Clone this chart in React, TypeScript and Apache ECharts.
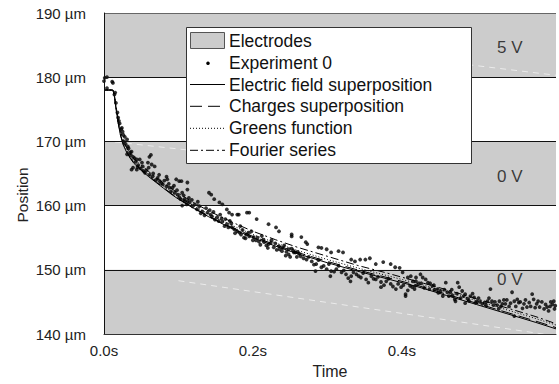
import React, { useEffect, useRef } from "react";
import * as echarts from "echarts";

// ---------- data ----------
const xTickLabels = ["0.0s", "0.2s", "0.4s"];
const electrodeBands = [
  [180, 190],
  [160, 170],
  [140, 150],
];
const electrodeVoltages = ["5 V", "0 V", "0 V"];
const voltageLabelAt = [
  [0.545, 184.6],
  [0.545, 164.5],
  [0.545, 148.5],
];
const bandEdges = [180, 170, 160, 150];
const frameEdges = [190, 140];

const modelTimes = [
  0, 0.006, 0.012, 0.014, 0.016, 0.019, 0.022, 0.026, 0.03, 0.035, 0.04, 0.05, 0.06, 0.07, 0.08, 0.09, 0.1,
  0.12, 0.14, 0.16, 0.18, 0.2, 0.23, 0.26, 0.3, 0.34, 0.38, 0.42, 0.46, 0.5, 0.54, 0.58, 0.607,
];
const fieldSuperposition = [
  178.0, 178.0, 178.0, 177.0, 175.2, 172.9, 171.0, 169.4, 168.4, 167.4, 166.6, 165.5, 164.5, 163.6, 162.7, 161.8, 161.0,
  159.6, 158.3, 157.1, 156.0, 155.0, 153.7, 152.5, 151.1, 149.8, 148.6, 147.4, 146.0, 144.6, 143.2, 141.8, 140.8,
];
const chargesSuperposition = [
  178.0, 178.0, 178.0, 177.0, 175.3, 173.0, 171.1, 169.5, 168.5, 167.5, 166.7, 165.6, 164.6, 163.7, 162.8, 161.9, 161.1,
  159.7, 158.4, 157.2, 156.2, 155.2, 153.9, 152.7, 151.3, 150.0, 148.8, 147.6, 146.2, 144.8, 143.4, 142.0, 141.0,
];
const greensFunction = [
  178.0, 178.0, 178.0, 177.1, 175.4, 173.2, 171.3, 169.7, 168.7, 167.7, 166.9, 165.8, 164.8, 163.9, 163.0, 162.2, 161.4,
  160.0, 158.7, 157.6, 156.5, 155.5, 154.2, 153.0, 151.6, 150.3, 149.1, 147.9, 146.6, 145.2, 143.8, 142.4, 141.4,
];
const fourierSeries = [
  178.0, 178.0, 178.0, 177.2, 175.6, 173.5, 171.7, 170.1, 169.1, 168.1, 167.3, 166.3, 165.3, 164.4, 163.5, 162.7, 161.9,
  160.5, 159.2, 158.1, 157.0, 156.0, 154.7, 153.5, 152.1, 150.7, 149.5, 148.2, 146.9, 145.5, 144.1, 142.7, 141.6,
];

const experiment0 = [
  [0.001, 179.9], [0.004, 180.0], [0.0, 179.4], [0.011, 179.3], [0.012, 179.1], [0.004, 178.3], [0.015, 177.6],
  [0.014, 177.3], [0.016, 176.0], [0.018, 174.5], [0.019, 173.7], [0.021, 172.8], [0.024, 172.1], [0.025, 171.5],
  [0.028, 170.7], [0.031, 170.3], [0.027, 170.0], [0.032, 169.2], [0.035, 168.3], [0.037, 168.4], [0.031, 168.0],
  [0.039, 167.6], [0.042, 166.8], [0.044, 167.2], [0.046, 166.3], [0.048, 167.2], [0.051, 166.7], [0.052, 166.1],
  [0.039, 165.9], [0.037, 165.6], [0.044, 165.6], [0.061, 167.6], [0.063, 167.9], [0.059, 166.7], [0.064, 166.4],
  [0.068, 166.1], [0.055, 165.1], [0.061, 164.8], [0.065, 164.5], [0.072, 164.3], [0.075, 163.8], [0.084, 164.5],
  [0.085, 164.1], [0.079, 163.3], [0.084, 163.0], [0.088, 162.8], [0.092, 162.8], [0.097, 164.1], [0.101, 163.8],
  [0.095, 162.0], [0.099, 161.7], [0.105, 162.0], [0.112, 162.5], [0.108, 161.0], [0.112, 160.7],
  [0.02, 173.2], [0.023, 171.9], [0.026, 171.0], [0.029, 169.6], [0.033, 168.9], [0.036, 167.9], [0.041, 167.4],
  [0.045, 166.0], [0.049, 165.8], [0.053, 165.4], [0.057, 165.5], [0.06, 165.9], [0.066, 165.0], [0.07, 164.0],
  [0.074, 164.8], [0.077, 163.5], [0.081, 163.9], [0.087, 163.4], [0.09, 162.2], [0.094, 163.1], [0.098, 162.4],
  [0.103, 161.0], [0.107, 161.6], [0.111, 160.2], [0.114, 161.2],
  // upper track
  [0.104, 163.8], [0.112, 163.6], [0.141, 162.0], [0.144, 161.7], [0.148, 161.0], [0.155, 160.5], [0.159, 160.2],
  [0.165, 159.4], [0.168, 158.9], [0.172, 158.6], [0.179, 158.6], [0.181, 158.6], [0.192, 158.9], [0.195, 158.9],
  [0.205, 157.9], [0.221, 157.1], [0.231, 156.6], [0.235, 156.0], [0.252, 155.2], [0.252, 155.5], [0.265, 155.1],
  [0.271, 154.3], [0.273, 154.0], [0.288, 153.5], [0.292, 153.4], [0.299, 153.2], [0.305, 152.7], [0.315, 152.9],
  [0.321, 152.7], [0.332, 151.6], [0.337, 151.3], [0.344, 151.6], [0.351, 151.6], [0.357, 151.8], [0.365, 150.9],
  [0.375, 151.2], [0.385, 150.9], [0.391, 150.4], [0.397, 150.3], [0.401, 149.6], [0.408, 148.8], [0.415, 148.2],
  [0.419, 148.2],
  // main band
  [0.101, 161.3], [0.105, 160.0], [0.108, 160.7], [0.115, 160.5], [0.118, 160.9], [0.119, 159.9], [0.125, 159.4],
  [0.128, 159.9], [0.132, 159.1], [0.135, 158.5], [0.139, 158.9], [0.142, 159.3], [0.145, 158.3], [0.149, 157.8],
  [0.152, 158.2], [0.156, 158.6], [0.159, 157.5], [0.162, 156.8], [0.165, 157.1], [0.169, 157.6], [0.172, 156.6],
  [0.176, 155.7], [0.179, 156.0], [0.183, 156.8], [0.184, 155.5], [0.188, 155.0], [0.191, 155.5], [0.195, 155.2],
  [0.198, 156.0], [0.201, 155.1], [0.204, 154.6], [0.208, 154.4], [0.212, 155.3], [0.215, 154.3], [0.218, 153.8],
  [0.221, 154.0], [0.225, 154.6], [0.228, 153.5], [0.232, 153.1], [0.235, 153.7], [0.239, 152.9], [0.242, 153.8],
  [0.245, 152.8], [0.248, 152.4], [0.248, 153.2], [0.252, 153.3], [0.255, 152.7], [0.257, 152.7], [0.259, 152.0],
  [0.262, 152.5], [0.264, 152.1], [0.272, 151.6], [0.279, 151.3], [0.284, 149.8], [0.285, 150.9], [0.292, 150.4],
  [0.299, 150.1], [0.304, 149.0], [0.305, 149.8], [0.312, 150.1], [0.319, 149.6], [0.325, 149.3], [0.331, 148.2],
  [0.332, 149.0], [0.339, 149.3], [0.345, 148.8], [0.352, 148.5], [0.359, 149.0], [0.365, 148.5], [0.372, 148.1],
  [0.372, 147.3], [0.379, 148.2], [0.385, 147.8], [0.392, 147.0], [0.399, 147.3], [0.405, 146.2], [0.405, 145.9],
  [0.411, 147.5], [0.417, 147.0],
  [0.122, 160.2], [0.126, 160.6], [0.13, 158.8], [0.137, 159.6], [0.143, 158.6], [0.147, 159.0], [0.154, 157.6],
  [0.158, 158.0], [0.163, 157.9], [0.167, 156.6], [0.171, 157.2], [0.175, 156.3], [0.182, 155.8], [0.186, 156.2],
  [0.19, 154.9], [0.194, 155.8], [0.2, 154.6], [0.206, 155.0], [0.21, 153.9], [0.214, 154.7], [0.22, 153.4],
  [0.224, 154.2], [0.23, 154.1], [0.236, 153.2], [0.24, 153.4], [0.244, 152.2], [0.25, 152.0], [0.254, 153.0],
  [0.26, 152.8], [0.268, 151.8], [0.275, 152.0], [0.282, 150.8], [0.288, 151.5], [0.295, 150.6], [0.302, 150.9],
  [0.309, 149.7], [0.315, 150.6], [0.322, 149.9], [0.328, 148.7], [0.335, 149.6], [0.342, 149.0], [0.348, 149.5],
  [0.355, 148.0], [0.362, 148.6], [0.368, 148.9], [0.376, 147.6], [0.382, 148.6], [0.388, 147.4], [0.395, 147.8],
  [0.402, 147.6], [0.408, 146.8], [0.414, 147.3],
  // late
  [0.412, 149.0], [0.419, 148.8], [0.422, 147.8], [0.425, 149.3], [0.428, 148.8], [0.432, 148.5], [0.435, 148.0],
  [0.438, 147.9], [0.441, 147.5], [0.444, 146.9], [0.448, 147.0], [0.452, 146.7], [0.455, 145.9], [0.459, 148.0],
  [0.461, 146.5], [0.465, 146.5], [0.468, 146.0], [0.471, 145.4], [0.472, 145.1], [0.475, 148.0], [0.477, 147.3],
  [0.481, 146.7], [0.485, 146.2], [0.485, 144.8], [0.488, 145.5], [0.492, 145.9], [0.495, 146.3], [0.497, 145.7],
  [0.501, 145.1], [0.505, 145.0], [0.508, 144.7], [0.511, 144.9], [0.515, 145.1], [0.519, 147.0], [0.521, 145.1],
  [0.525, 145.0], [0.528, 144.5], [0.53, 143.9], [0.531, 145.1], [0.535, 144.7], [0.539, 144.7], [0.541, 145.3],
  [0.544, 144.3], [0.548, 146.5], [0.551, 145.1], [0.551, 142.8], [0.555, 145.4], [0.559, 145.0], [0.562, 144.0],
  [0.564, 144.7], [0.568, 144.2], [0.571, 144.9], [0.575, 146.2], [0.577, 145.4], [0.581, 144.7], [0.585, 144.2],
  [0.588, 145.0], [0.591, 143.9], [0.595, 144.2], [0.597, 143.6], [0.599, 144.3], [0.602, 144.6], [0.604, 145.1],
  [0.605, 143.9],
  [0.418, 147.5], [0.426, 147.9], [0.43, 147.2], [0.437, 147.0], [0.443, 147.6], [0.449, 146.4], [0.457, 146.9],
  [0.463, 145.9], [0.467, 146.9], [0.474, 146.3], [0.479, 145.6], [0.483, 145.9], [0.49, 145.2], [0.499, 144.9],
  [0.503, 145.6], [0.513, 144.5], [0.517, 145.6], [0.523, 144.5], [0.533, 144.3], [0.537, 145.3], [0.546, 144.8],
  [0.553, 144.3], [0.557, 144.9], [0.566, 145.3], [0.573, 144.3], [0.579, 144.1], [0.583, 145.1], [0.593, 144.6],
  [0.6, 145.0], [0.606, 144.4],
];

// faint light streaks visible across the grey electrode bands
const glareLines = [
  [[0.4, 183.2], [0.607, 180.3]],
  [[0.0, 170.1], [0.25, 166.9]],
  [[0.1, 148.3], [0.607, 139.7]],
];

const legendNames = [
  "Electrodes",
  "Experiment 0",
  "Electric field superposition",
  "Charges superposition",
  "Greens function",
  "Fourier series",
];

const FONT = "'Liberation Sans', Arial, Helvetica, sans-serif";
const DASHED = [12, 6];
const DOTTED = [1, 2];
const DASHDOT = [8, 3, 2, 3];

export default function App() {
  const ref = useRef<HTMLDivElement>(null);

  useEffect(() => {
    if (!ref.current) return;
    const chart = echarts.init(ref.current, undefined, { renderer: "svg" });

    const modelSeries = [
      { name: legendNames[2], values: fieldSuperposition, dash: "solid" as any },
      { name: legendNames[3], values: chargesSuperposition, dash: DASHED },
      { name: legendNames[4], values: greensFunction, dash: DOTTED },
      { name: legendNames[5], values: fourierSeries, dash: DASHDOT },
    ];

    const legendRowY = [40.5, 63.3, 84.5, 106.3, 128.3, 150.3];
    const legendGraphics: any[] = [
      {
        type: "rect",
        z: 100,
        shape: { x: 186.5, y: 27.5, width: 285, height: 136 },
        style: { fill: "#ffffff", stroke: "#333333", lineWidth: 1 },
      },
      {
        type: "rect",
        z: 101,
        shape: { x: 190.5, y: 32.5, width: 34, height: 16 },
        style: { fill: "#cccccc", stroke: "#555555", lineWidth: 1 },
      },
      {
        type: "circle",
        z: 101,
        shape: { cx: 208, cy: legendRowY[1], r: 1.8 },
        style: { fill: "#000000" },
      },
    ];
    [null, DASHED, DOTTED, DASHDOT].forEach((d, i) => {
      legendGraphics.push({
        type: "line",
        z: 101,
        shape: { x1: 190, y1: legendRowY[i + 2], x2: 225, y2: legendRowY[i + 2] },
        style: { stroke: "#000000", lineWidth: 1, lineDash: d || undefined },
      });
    });
    legendNames.forEach((n, i) => {
      legendGraphics.push({
        type: "text",
        z: 101,
        x: 229,
        y: legendRowY[i],
        style: {
          text: n,
          fontSize: 17.5,
          fontFamily: FONT,
          fill: "#111111",
          textAlign: "left",
          textVerticalAlign: "middle",
        },
      });
    });
    legendGraphics.push({
      type: "text",
      x: 22,
      y: 195,
      rotation: Math.PI / 2,
      style: {
        text: "Position",
        fontSize: 15.5,
        fontFamily: FONT,
        fill: "#222222",
        textAlign: "center",
        textVerticalAlign: "middle",
      },
    });

    const option: any = {
      animation: false,
      backgroundColor: "#ffffff",
      textStyle: { fontFamily: FONT },
      grid: { left: 104, right: 0, top: 13, bottom: 49 },
      xAxis: {
        type: "value",
        min: 0,
        max: 0.607,
        interval: 0.2,
        z: 10,
        name: "Time",
        nameLocation: "middle",
        nameGap: 29,
        nameTextStyle: { fontSize: 16, color: "#222222", fontFamily: FONT },
        axisLine: { show: true, lineStyle: { color: "#333333", width: 1 } },
        axisTick: { show: false },
        splitLine: { show: false },
        axisLabel: {
          fontSize: 15,
          color: "#222222",
          margin: 9,
          fontFamily: FONT,
          formatter: (v: number) => xTickLabels[Math.round(v / 0.2)] ?? "",
        },
      },
      yAxis: {
        type: "value",
        min: 140,
        max: 190,
        interval: 10,
        z: 10,
        axisLine: { show: true, lineStyle: { color: "#111111", width: 1 } },
        axisTick: { show: false },
        splitLine: { show: false },
        axisLabel: {
          fontSize: 15,
          color: "#222222",
          margin: 18,
          fontFamily: FONT,
          formatter: (v: number) => `${v} µm`,
        },
      },
      graphic: legendGraphics,
      series: [
        {
          name: "Electrodes",
          type: "line",
          data: [],
          z: 1,
          silent: true,
          markArea: {
            silent: true,
            itemStyle: { color: "#cccccc" },
            data: electrodeBands.map(([a, b]) => [{ yAxis: a }, { yAxis: b }]),
          },
          markLine: {
            silent: true,
            symbol: "none",
            label: { show: false },
            data: [
              ...bandEdges.map((v) => ({ yAxis: v, lineStyle: { color: "#111111", width: 1, type: "solid" } })),
              ...frameEdges.map((v) => ({ yAxis: v, lineStyle: { color: "#666666", width: 1, type: "solid" } })),
            ],
          },
        },
        ...glareLines.map((pts) => ({
          type: "line",
          data: pts,
          z: 2,
          silent: true,
          showSymbol: false,
          symbol: "none",
          lineStyle: { color: "#ffffff", width: 1, type: [6, 5], opacity: 0.6 },
        })),
        ...modelSeries.map((s) => ({
          name: s.name,
          type: "line",
          data: modelTimes.map((t, i) => [t, s.values[i]]),
          z: 3,
          silent: true,
          showSymbol: false,
          symbol: "none",
          lineStyle: { color: "#000000", width: 1, type: s.dash },
        })),
        {
          name: "Experiment 0",
          type: "scatter",
          data: experiment0,
          z: 4,
          silent: true,
          symbol: "circle",
          symbolSize: 3.8,
          itemStyle: { color: "#000000" },
        },
        {
          type: "scatter",
          z: 5,
          silent: true,
          symbolSize: 1,
          itemStyle: { color: "rgba(0,0,0,0)" },
          data: voltageLabelAt.map((p, i) => ({ name: electrodeVoltages[i], value: p })),
          label: {
            show: true,
            position: "inside",
            formatter: (p: any) => p.name,
            fontSize: 17,
            color: "#111111",
            fontFamily: FONT,
          },
        },
      ],
    };

    chart.setOption(option);
    return () => chart.dispose();
  }, []);

  return (
    <div
      ref={ref}
      style={{ position: "fixed", left: 0, top: 0, width: 559, height: 384, background: "#fff" }}
    />
  );
}
